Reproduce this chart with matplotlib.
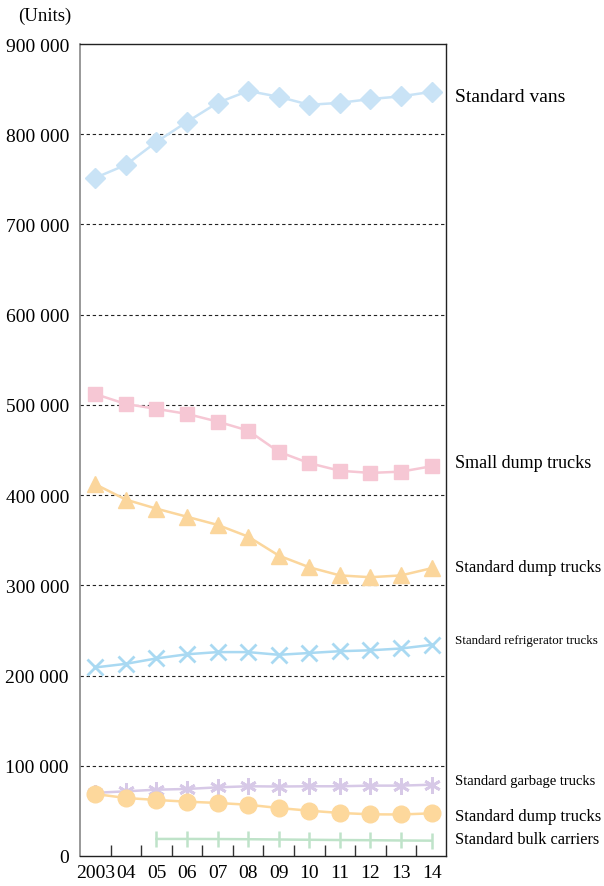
"""Line chart: units in use by vehicle type, 2003-2014."""
import matplotlib.pyplot as plt
import numpy as np

years = np.arange(2003, 2015)
year_labels = ["2003", "04", "05", "06", "07", "08", "09", "10", "11", "12", "13", "14"]

vans = [751700, 766000, 791500, 813700, 834800, 848000, 841500, 832600, 834800, 839000, 842000, 847000]
small_dump = [512000, 501000, 495600, 490000, 481500, 471500, 448000, 435400, 427000, 424600, 426000, 432000]
std_dump = [412000, 395000, 385000, 376000, 367000, 354000, 333000, 320000, 311000, 309000, 311000, 319000]
refrigerator = [209000, 213000, 219000, 223600, 226000, 226000, 223000, 225000, 227000, 228000, 230000, 234000]
garbage = [70000, 71700, 73500, 74300, 76100, 77300, 77000, 77300, 77300, 78000, 78000, 79000]
std_dump_small = [68700, 64300, 62100, 60200, 58800, 56800, 53200, 50200, 47700, 46200, 46000, 47300]
bulk_years = np.arange(2005, 2015)
bulk = [18900, 18900, 18800, 18600, 18300, 18000, 17700, 17500, 17200, 17000]

yticks = np.arange(0, 900001, 100000)
ytick_labels = ["0"] + [f"{v // 1000} 000" for v in yticks[1:]]

SERIF = "Liberation Serif"

fig = plt.figure(figsize=(6.04, 8.87), dpi=100)
ax = fig.add_axes([80 / 604, 30 / 887, 366 / 604, 812 / 887])

ax.plot(years, vans, color="#c9e3f6", lw=1.8, marker="D", ms=10, zorder=3)
ax.plot(years, small_dump, color="#f6c7d4", lw=1.8, marker="s", ms=10, zorder=3)
ax.plot(years, std_dump, color="#fbd69c", lw=1.8, marker="^", ms=11, zorder=3)
ax.plot(years, refrigerator, color="#a9d9f2", lw=1.8, marker="x", ms=11, mew=2, zorder=3)
ax.plot(years, garbage, color="#d7c9e7", lw=1.8, marker=(6, 2, 0), ms=12, mew=2, zorder=3)
ax.plot(years, std_dump_small, color="#fdd89c", lw=1.8, marker="o", ms=12, zorder=4)
ax.plot(bulk_years, bulk, color="#bfe3c9", lw=1.8, marker="|", ms=12, mew=1.8, zorder=3)

ax.set_xlim(2002.5, 2014.47)
ax.set_ylim(0, 900000)
ax.set_yticks(yticks)
ax.set_yticklabels(ytick_labels, fontfamily=SERIF, fontsize=14)
ax.set_xticks(years)
ax.set_xticklabels(year_labels, fontfamily=SERIF, fontsize=14)
ax.set_xticks(years[:-1] + 0.5, minor=True)
ax.tick_params(axis="y", length=0, pad=8)
ax.tick_params(axis="x", which="major", length=0, pad=6)
ax.tick_params(axis="x", which="minor", direction="in", length=8, color="#333333", width=1)

# dashed grid on the inner hundreds only
for v in yticks[1:-1]:
    ax.axhline(v, color="#222222", lw=0.8, ls=(0, (3, 2.5)), zorder=1)

ax.spines["left"].set_color("#888888")
for side in ["top", "right", "bottom"]:
    ax.spines[side].set_color("#222222")
    ax.spines[side].set_linewidth(1.0)
ax.spines["left"].set_linewidth(1.2)

fig.text(18 / 604, 1 - 16 / 887, "(Units)", fontfamily=SERIF, fontsize=13.5,
         va="center", ha="left")

labels = [
    ("Standard vans", 97, 14),
    ("Small dump trucks", 463, 13),
    ("Standard dump trucks", 568, 12),
    ("Standard refrigerator trucks", 641, 9.4),
    ("Standard garbage trucks", 782, 10.5),
    ("Standard dump trucks", 817, 12),
    ("Standard bulk carriers", 840, 11.7),
]
for text, ypix, size in labels:
    fig.text(455 / 604, 1 - ypix / 887, text, fontfamily=SERIF, fontsize=size,
             va="center", ha="left")

fig.savefig("out.png", dpi=100)
